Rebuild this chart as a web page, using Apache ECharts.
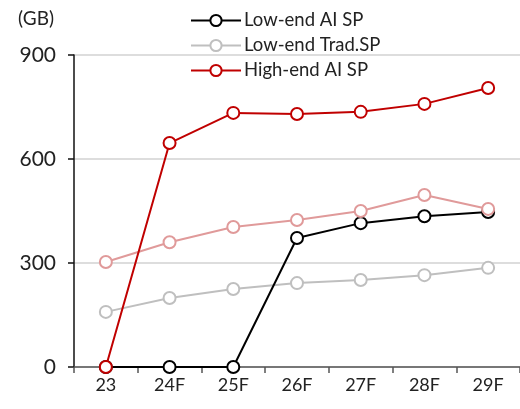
<!DOCTYPE html>
<html><head><meta charset="utf-8">
<script src="https://cdn.jsdelivr.net/npm/echarts@6/dist/echarts.min.js"></script>
<style>html,body{margin:0;padding:0;background:#fff}#c{width:520px;height:409px}</style>
</head><body><div id="c"></div>
<script>
const categories = ['23','24F','25F','26F','27F','28F','29F'];
const lowEndAI = [0, 0, 0, 372, 415, 435, 447];
const lowEndTrad = [159, 199, 225, 242, 251, 265, 286];
const highEndAI = [0, 646, 733, 730, 736, 759, 805];
const highEndTrad = [303, 360, 404, 424, 450, 496, 456];
const yTicks = [0, 300, 600, 900];

const font = 'Lato';
function mk(name, data, color, z) {
  return {
    name, type: 'line', data, z,
    symbol: 'circle', symbolSize: 12, showSymbol: true,
    lineStyle: { color, width: 2 },
    itemStyle: { color: '#fff', borderColor: color, borderWidth: 2 },
    emphasis: { disabled: true },
    animation: false
  };
}
const chart = echarts.init(document.getElementById('c'), null, { renderer: 'canvas' });
chart.setOption({
  animation: false,
  textStyle: { fontFamily: font },
  grid: { left: 74, right: -2, top: 55, bottom: 42, containLabel: false },
  legend: {
    orient: 'vertical', left: 185, top: 6, itemGap: 6, itemWidth: 50, itemHeight: 14,
    data: ['Low-end AI SP', 'Low-end Trad.SP', 'High-end AI SP'],
    textStyle: { fontSize: 18.5, color: '#222', fontFamily: font, padding: [0,0,0,-2] },
    selectedMode: false
  },
  xAxis: {
    type: 'category', data: categories, boundaryGap: true,
    axisLine: { lineStyle: { color: '#555', width: 1.5 } },
    axisTick: { show: true, length: 6, lineStyle: { color: '#555', width: 1.5 } },
    axisLabel: { fontSize: 18, color: '#222', margin: 9, fontFamily: font }
  },
  yAxis: {
    type: 'value', min: 0, max: 900, interval: 300,
    name: '(GB)', nameLocation: 'end', nameGap: 27,
    nameTextStyle: { fontSize: 19, color: '#222', align: 'right', padding: [0, 20, 0, 0], fontFamily: font },
    axisLine: { show: true, lineStyle: { color: '#111', width: 1.5 } },
    axisTick: { show: true, length: 6, lineStyle: { color: '#111', width: 1.5 } },
    axisLabel: { fontSize: 21, color: '#222', margin: 18, fontFamily: font,
      formatter: v => yTicks.includes(v) ? String(v) : '' },
    splitLine: { show: true, lineStyle: { color: '#dddddd', width: 2 } }
  },
  series: [
    mk('Low-end Trad.SP', lowEndTrad, '#bfbfbf', 2),
    mk('Low-end AI SP', lowEndAI, '#000000', 3),
    mk('High-end Trad.SP', highEndTrad, '#e09a9a', 4),
    mk('High-end AI SP', highEndAI, '#c00000', 5)
  ]
});
</script></body></html>
